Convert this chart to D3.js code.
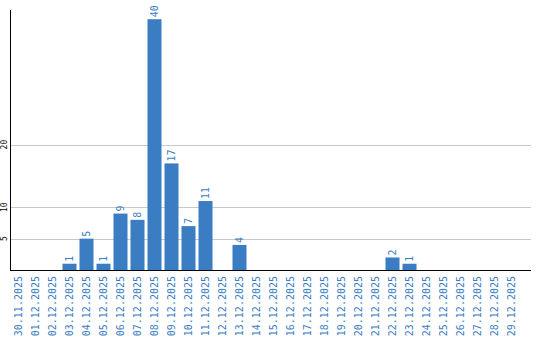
<!DOCTYPE html>
<html><head><meta charset="utf-8">
<script src="https://cdn.jsdelivr.net/npm/d3@7"></script>
<style>body{margin:0;background:#fff}svg{display:block}</style>
</head><body>
<script>
const categories = ["30.11.2025","01.12.2025","02.12.2025","03.12.2025","04.12.2025","05.12.2025","06.12.2025","07.12.2025","08.12.2025","09.12.2025","10.12.2025","11.12.2025","12.12.2025","13.12.2025","14.12.2025","15.12.2025","16.12.2025","17.12.2025","18.12.2025","19.12.2025","20.12.2025","21.12.2025","22.12.2025","23.12.2025","24.12.2025","25.12.2025","26.12.2025","27.12.2025","28.12.2025","29.12.2025"];
const values = [0,0,0,1,5,1,9,8,40,17,7,11,0,4,0,0,0,0,0,0,0,0,2,1,0,0,0,0,0,0];
const yTicks = [5,10,20];

const W = 540, H = 340;
const svg = d3.select("body").append("svg").attr("width", W).attr("height", H);
const mLeft = 10, mRight = 531, mTop = 10, base = 270;
const x = d3.scaleBand().domain(categories).range([mLeft, 520]).paddingInner(0.176).paddingOuter(0.088);
const y = d3.scaleLinear().domain([0, 41.47]).range([base, mTop]);
const blue = "#3a7dc2";
const mono = "'DejaVu Sans Mono', 'Liberation Mono', monospace";

// grid
svg.append("g").selectAll("line").data(yTicks).join("line")
  .attr("x1", mLeft).attr("x2", mRight)
  .attr("y1", d => Math.round(y(d)) + 0.5).attr("y2", d => Math.round(y(d)) + 0.5)
  .attr("stroke", "#c8c8c8").attr("stroke-width", 1);

// y tick labels
svg.append("g").selectAll("text").data(yTicks).join("text")
  .attr("transform", d => `translate(7,${y(d)}) rotate(-90)`)
  .attr("text-anchor", "middle")
  .attr("font-family", mono).attr("font-size", 8).attr("fill", "#000")
  .text(d => d);

// bars
svg.append("g").selectAll("rect").data(values).join("rect")
  .attr("x", (d, i) => x(categories[i]))
  .attr("width", x.bandwidth())
  .attr("y", d => y(d))
  .attr("height", d => base - y(d))
  .attr("fill", blue);

// value labels
svg.append("g").selectAll("text").data(values.map((v, i) => ({v, c: categories[i]})).filter(d => d.v > 0)).join("text")
  .attr("transform", d => `translate(${x(d.c) + x.bandwidth() / 2 + 3.5},${y(d.v) - 2}) rotate(-90)`)
  .attr("text-anchor", "start")
  .attr("font-family", mono).attr("font-size", 10).attr("fill", blue)
  .text(d => d.v);

// axes lines
svg.append("line").attr("x1", mLeft + 0.5).attr("x2", mLeft + 0.5).attr("y1", mTop).attr("y2", base + 1)
  .attr("stroke", "#000").attr("stroke-width", 1);
svg.append("line").attr("x1", mLeft).attr("x2", mRight).attr("y1", base + 0.5).attr("y2", base + 0.5)
  .attr("stroke", "#000").attr("stroke-width", 1);

// x labels
svg.append("g").selectAll("text").data(categories).join("text")
  .attr("transform", d => `translate(${x(d) + x.bandwidth() / 2 + 3.5},276) rotate(-90)`)
  .attr("text-anchor", "end")
  .attr("font-family", mono).attr("font-size", 10).attr("fill", blue)
  .text(d => d);
</script>
</body></html>
